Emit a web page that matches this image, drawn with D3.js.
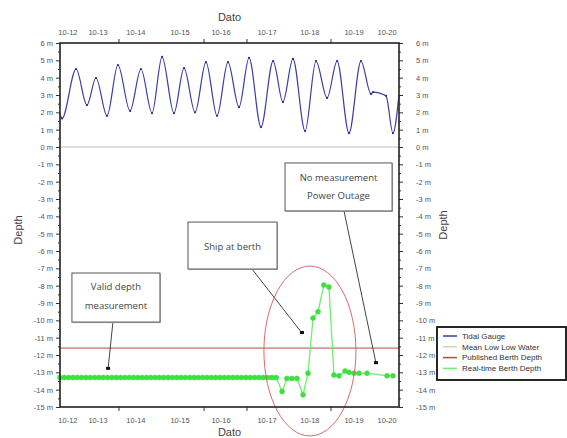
<!DOCTYPE html>
<html>
<head>
<meta charset="utf-8">
<script src="https://cdn.jsdelivr.net/npm/d3@7"></script>
<style>
  body { margin: 0; background: #fff; }
  text { font-family: "Liberation Sans", Arial, sans-serif; }
</style>
</head>
<body>
<svg id="chart"></svg>
<script>
// time is in hours since 10-12 00:00
const tideHours = [0, 1.2, 9.3, 15.6, 20.8, 27.2, 33.5, 40.5, 46.8, 53.2, 59.0, 65.9, 71.7, 78.1, 84.4, 90.8,
  97.1, 103.5, 109.3, 116.2, 123.2, 128.9, 134.7, 141.7, 148.0, 154.4, 160.2, 167.1, 174.0, 179.8, 181.0, 188.5, 192.5, 196];
const tideDepth = [1.9, 1.65, 4.5, 2.42, 3.98, 1.8, 4.73, 2.08, 4.5, 1.96, 5.2, 1.96, 4.55, 2.0, 4.9, 1.8,
  4.9, 2.3, 5.15, 1.15, 4.96, 2.6, 5.08, 0.92, 4.96, 2.83, 4.96, 0.8, 4.96, 3.06, 3.17, 2.95, 0.8, 3.0];

const berthHours = [0, 2.5, 5, 7.5, 10, 12.5, 15, 17.5, 20, 22.5, 25, 27.5, 30, 32.5, 35, 37.5, 40, 42.5, 45, 47.5,
  50, 52.5, 55, 57.5, 60, 62.5, 65, 67.5, 70, 72.5, 75, 77.5, 80, 82.5, 85, 87.5, 90, 92.5, 95, 97.5,
  100, 102.5, 105, 107.5, 110, 112.5, 115, 117.5, 120, 122.5, 125,
  128.4, 131.2, 134.1, 137.0, 140.5, 143.4, 146.3, 149.2, 152.6, 155.5, 158.4, 161.3, 164.8, 167.1,
  170.0, 172.9, 177.5, 189.1, 192.5];
const berthDepth = [-13.3, -13.3, -13.3, -13.3, -13.3, -13.3, -13.3, -13.3, -13.3, -13.3, -13.3, -13.3, -13.3, -13.3, -13.3, -13.3, -13.3, -13.3, -13.3, -13.3,
  -13.3, -13.3, -13.3, -13.3, -13.3, -13.3, -13.3, -13.3, -13.3, -13.3, -13.3, -13.3, -13.3, -13.3, -13.3, -13.3, -13.3, -13.3, -13.3, -13.3,
  -13.3, -13.3, -13.3, -13.3, -13.3, -13.3, -13.3, -13.3, -13.3, -13.3, -13.3,
  -14.1, -13.35, -13.35, -13.35, -14.3, -13.05, -9.87, -9.5, -7.96, -8.08, -13.16, -13.2, -12.93, -13.0,
  -13.05, -13.05, -13.05, -13.2, -13.2];

const meanLowLowWater = 0;
const publishedBerthDepth = -11.6;

const dayLabels = ['10-12', '10-13', '10-14', '10-15', '10-16', '10-17', '10-18', '10-19', '10-20'];
const dayLabelHours = [4.6, 22.0, 43.9, 69.4, 93.1, 119.7, 144.5, 170.0, 189.1];
const dayTickHours = [34.1, 83.3, 108.1, 156.7];
const depthTicks = [6, 5, 4, 3, 2, 1, 0, -1, -2, -3, -4, -5, -6, -7, -8, -9, -10, -11, -12, -13, -14, -15];
const depthMinorTicks = [5.5, 4.5, 3.5, 2.5, 1.5, 0.5, -0.5, -1.5, -2.5, -3.5, -4.5, -5.5, -6.5, -7.5, -8.5, -9.5,
  -10.5, -11.5, -12.5, -13.5, -14.5];

const legendNames = ['Tidal Gauge', 'Mean Low Low Water', 'Published Berth Depth', 'Real-time Berth Depth'];
const legendColors = ['#3a3d9e', '#cfcfcf', '#c84040', '#70ec70'];

// callouts, in chart units (hours, metres)
const callouts = [
  { lines: ['Valid depth', 'measurement'], h0: 6.9, h1: 57.8, d0: -7.27, d1: -10.1, lineD: [-8.08, -9.18],
    from: [30.6, -10.1], to: [27.8, -12.8] },
  { lines: ['Ship at berth'], h0: 74.0, h1: 125.5, d0: -4.33, d1: -7.04, lineD: [-5.77],
    from: [111.0, -7.04], to: [139.9, -10.73] },
  { lines: ['No measurement', 'Power Outage'], h0: 130.1, h1: 192, d0: -0.92, d1: -3.69, lineD: [-1.79, -2.83],
    from: [164.2, -3.69], to: [182.7, -12.47] }
];

const width = 567, height = 438;
const margin = { top: 43, right: 168, bottom: 31, left: 60 };

const svg = d3.select('#chart').attr('width', width).attr('height', height);

const x = d3.scaleLinear().domain([0, 196]).range([margin.left, width - margin.right]);
const y = d3.scaleLinear().domain([-15, 6]).range([height - margin.bottom, margin.top]);

const tickColor = '#555';

// reference lines
svg.append('line')
    .attr('x1', x(0)).attr('x2', x(196))
    .attr('y1', y(meanLowLowWater)).attr('y2', y(meanLowLowWater))
    .attr('stroke', '#d4d4d4').attr('stroke-width', 1.5);

svg.append('line')
    .attr('x1', x(0)).attr('x2', x(196))
    .attr('y1', y(publishedBerthDepth)).attr('y2', y(publishedBerthDepth))
    .attr('stroke', '#c84040').attr('stroke-width', 1);

// tidal gauge
const tide = tideHours.map((h, i) => ({ h, d: tideDepth[i] }));
svg.append('path')
    .datum(tide)
    .attr('fill', 'none')
    .attr('stroke', '#3a3d9e')
    .attr('stroke-width', 1.2)
    .attr('d', d3.line().x(d => x(d.h)).y(d => y(d.d)).curve(d3.curveMonotoneX));

svg.append('g').selectAll('circle')
    .data(tide.slice(1, -1))
    .join('circle')
    .attr('cx', d => x(d.h)).attr('cy', d => y(d.d))
    .attr('r', 1.1).attr('fill', '#2a2d8a');

// berth depth
const berth = berthHours.map((h, i) => ({ h, d: berthDepth[i] }));
svg.append('path')
    .datum(berth)
    .attr('fill', 'none')
    .attr('stroke', '#70ec70')
    .attr('stroke-width', 1.3)
    .attr('d', d3.line().x(d => x(d.h)).y(d => y(d.d)));

svg.append('g').selectAll('circle')
    .data(berth)
    .join('circle')
    .attr('cx', d => x(d.h)).attr('cy', d => y(d.d))
    .attr('r', 2.5)
    .attr('fill', '#38e438')
    .attr('stroke', '#50d050')
    .attr('stroke-width', 0.5);

// ship ellipse
svg.append('ellipse')
    .attr('cx', x(144.5)).attr('cy', y(-11.77))
    .attr('rx', x(26.6) - x(0)).attr('ry', y(0) - y(4.9))
    .attr('fill', 'none')
    .attr('stroke', '#d86a6a')
    .attr('stroke-width', 1);

// axes
const styleAxis = g => {
    g.selectAll('.domain').remove();
    g.selectAll('.tick line').attr('stroke', '#333');
    g.selectAll('.tick text').attr('fill', tickColor).style('font-size', '7.5px');
};

svg.append('g')
    .attr('transform', `translate(${x(0)},0)`)
    .call(d3.axisLeft(y).tickValues(depthTicks).tickSize(4).tickPadding(3).tickFormat(d => `${d} m`))
    .call(styleAxis);
svg.append('g')
    .attr('transform', `translate(${x(0)},0)`)
    .call(d3.axisLeft(y).tickValues(depthMinorTicks).tickSize(2).tickFormat(''))
    .call(styleAxis);

svg.append('g')
    .attr('transform', `translate(${x(196)},0)`)
    .call(d3.axisRight(y).tickValues(depthTicks).tickSize(4).tickPadding(13).tickFormat(d => `${d} m`))
    .call(styleAxis);
svg.append('g')
    .attr('transform', `translate(${x(196)},0)`)
    .call(d3.axisRight(y).tickValues(depthMinorTicks).tickSize(2).tickFormat(''))
    .call(styleAxis);

// date labels top and bottom
[y(6), y(-15)].forEach((yy, k) => {
    const g = svg.append('g');
    g.selectAll('line')
        .data(dayTickHours)
        .join('line')
        .attr('x1', d => x(d)).attr('x2', d => x(d))
        .attr('y1', yy).attr('y2', k === 0 ? yy - 4 : yy + 4)
        .attr('stroke', '#333');
    g.selectAll('text')
        .data(dayLabels)
        .join('text')
        .attr('x', (d, i) => x(dayLabelHours[i]))
        .attr('y', k === 0 ? yy - 8 : yy + 16)
        .attr('text-anchor', 'middle')
        .attr('fill', tickColor)
        .style('font-size', '7.5px')
        .text(d => d);
});

// frame
svg.append('rect')
    .attr('x', x(0)).attr('y', y(6))
    .attr('width', x(196) - x(0)).attr('height', y(-15) - y(6))
    .attr('fill', 'none')
    .attr('stroke', '#222')
    .attr('stroke-width', 1.6);

// titles
svg.append('text').attr('x', x(98)).attr('y', 21).attr('text-anchor', 'middle')
    .attr('fill', '#444').style('font-size', '11px').text('Dato');
svg.append('text').attr('x', x(98)).attr('y', 436).attr('text-anchor', 'middle')
    .attr('fill', '#444').style('font-size', '11px').text('Dato');
svg.append('text').attr('transform', `translate(22,230) rotate(-90)`).attr('text-anchor', 'middle')
    .attr('fill', '#444').style('font-size', '11px').text('Depth');
svg.append('text').attr('transform', `translate(447,225) rotate(-90)`).attr('text-anchor', 'middle')
    .attr('fill', '#444').style('font-size', '11px').text('Depth');

// callouts
callouts.forEach(c => {
    const g = svg.append('g');
    g.append('line')
        .attr('x1', x(c.from[0])).attr('y1', y(c.from[1]))
        .attr('x2', x(c.to[0])).attr('y2', y(c.to[1]))
        .attr('stroke', '#444').attr('stroke-width', 1);
    g.append('rect')
        .attr('x', x(c.to[0]) - 2).attr('y', y(c.to[1]) - 2)
        .attr('width', 4).attr('height', 3)
        .attr('fill', '#111');
    g.append('rect')
        .attr('x', x(c.h0) + 1).attr('y', y(c.d0) + 1)
        .attr('width', x(c.h1) - x(c.h0)).attr('height', y(c.d1) - y(c.d0))
        .attr('fill', '#bbb');
    g.append('rect')
        .attr('x', x(c.h0)).attr('y', y(c.d0))
        .attr('width', x(c.h1) - x(c.h0)).attr('height', y(c.d1) - y(c.d0))
        .attr('fill', '#fff').attr('stroke', '#555').attr('stroke-width', 1);
    c.lines.forEach((t, i) => {
        g.append('text')
            .attr('x', x((c.h0 + c.h1) / 2)).attr('y', y(c.lineD[i]))
            .attr('dy', '0.35em')
            .attr('text-anchor', 'middle')
            .attr('fill', '#444')
            .style('font-family', '"Open Sans", sans-serif')
            .style('font-size', '9.5px')
            .text(t);
    });
});

// legend
const legend = svg.append('g').attr('transform', 'translate(437,327)');
legend.append('rect')
    .attr('width', 129).attr('height', 53)
    .attr('fill', '#fff').attr('stroke', '#111').attr('stroke-width', 1.8);
legendNames.forEach((name, i) => {
    const row = legend.append('g').attr('transform', `translate(0,${9 + i * 10.8})`);
    row.append('line').attr('x1', 6).attr('x2', 20).attr('y1', 0).attr('y2', 0)
        .attr('stroke', legendColors[i]).attr('stroke-width', 1.5);
    row.append('text').attr('x', 25).attr('dy', '0.35em')
        .attr('fill', '#333').style('font-size', '8px').text(name);
});
</script>
</body>
</html>
